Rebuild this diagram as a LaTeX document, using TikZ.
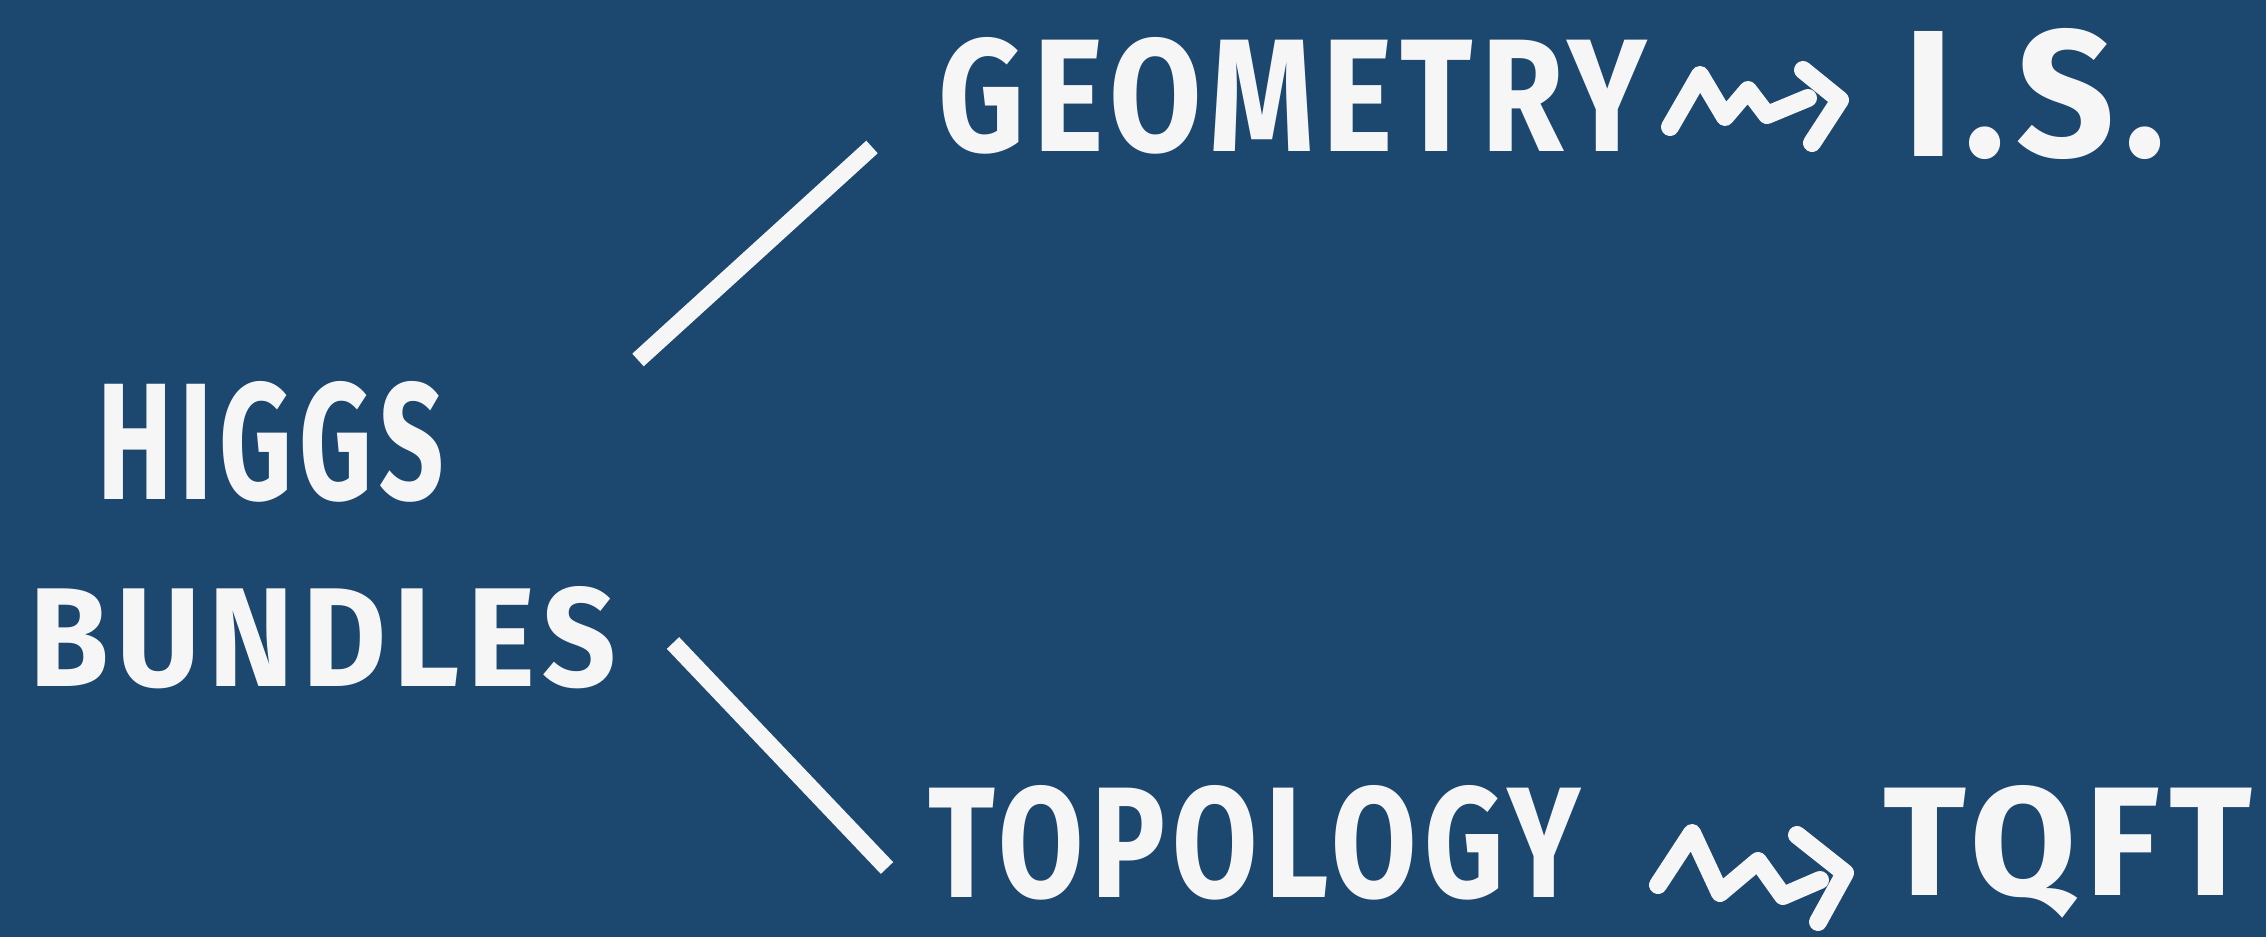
\documentclass[tikz,border=0pt]{standalone}
\usepackage{fontspec}
\usepackage{graphicx}
\setmainfont{Fira Sans}[LetterSpace=6]
\definecolor{board}{RGB}{28,71,111}
\definecolor{chalk}{RGB}{246,246,246}
\newcommand\chalktext[3]{\resizebox{#1mm}{#2mm}{\bfseries #3}}
\tikzset{
  chalkword/.style={anchor=base west, inner sep=0pt, text=chalk},
  chalkline/.style={draw=chalk, line width=1.7mm, line cap=butt},
  squiggle/.style={draw=chalk, line width=1.8mm, line cap=round, line join=round},
}
\begin{document}
\begin{tikzpicture}[x=0.01cm, y=-0.01cm]
\fill[board] (0,0) rectangle (2266,937);
\useasboundingbox (0,0) rectangle (2266,937);

% texts
\node[chalkword] (higgs)   at (97,500)  {\chalktext{34.6}{11.8}{HIGGS}};
\node[chalkword] (bundles) at (29,686)  {\chalktext{58.6}{10.0}{BUNDLES}};
\node[chalkword] (geoA)    at (938,152) {\chalktext{70.8}{11.4}{GEOMETRY}};
\node[chalkword] (geoB)    at (1903,157){\chalktext{26.2}{12.8}{I.S.}};
\node[chalkword] (topA)    at (928,897) {\chalktext{65.2}{11.2}{TOPOLOGY}};
\node[chalkword] (topB)    at (1883,895){\chalktext{36.8}{11.0}{TQFT}};

% branch lines
\coordinate (l1a) at (638,360);
\coordinate (l1b) at (872,147);
\coordinate (l2a) at (673,643);
\coordinate (l2b) at (887,868);
\draw[chalkline] (l1a) -- (l1b);
\draw[chalkline] (l2a) -- (l2b);

% squiggly arrows
\draw[squiggle] (1670,127) -- (1700,75) -- (1725,117) -- (1748,90) -- (1767,115) -- (1808,98);
\draw[squiggle] (1803,70) -- (1840,100) -- (1812,143);
\draw[squiggle] (1658,885) -- (1692,833) -- (1720,893) -- (1758,861) -- (1783,896) -- (1820,880);
\draw[squiggle] (1797,835) -- (1845,873) -- (1818,922);
\end{tikzpicture}
\end{document}
